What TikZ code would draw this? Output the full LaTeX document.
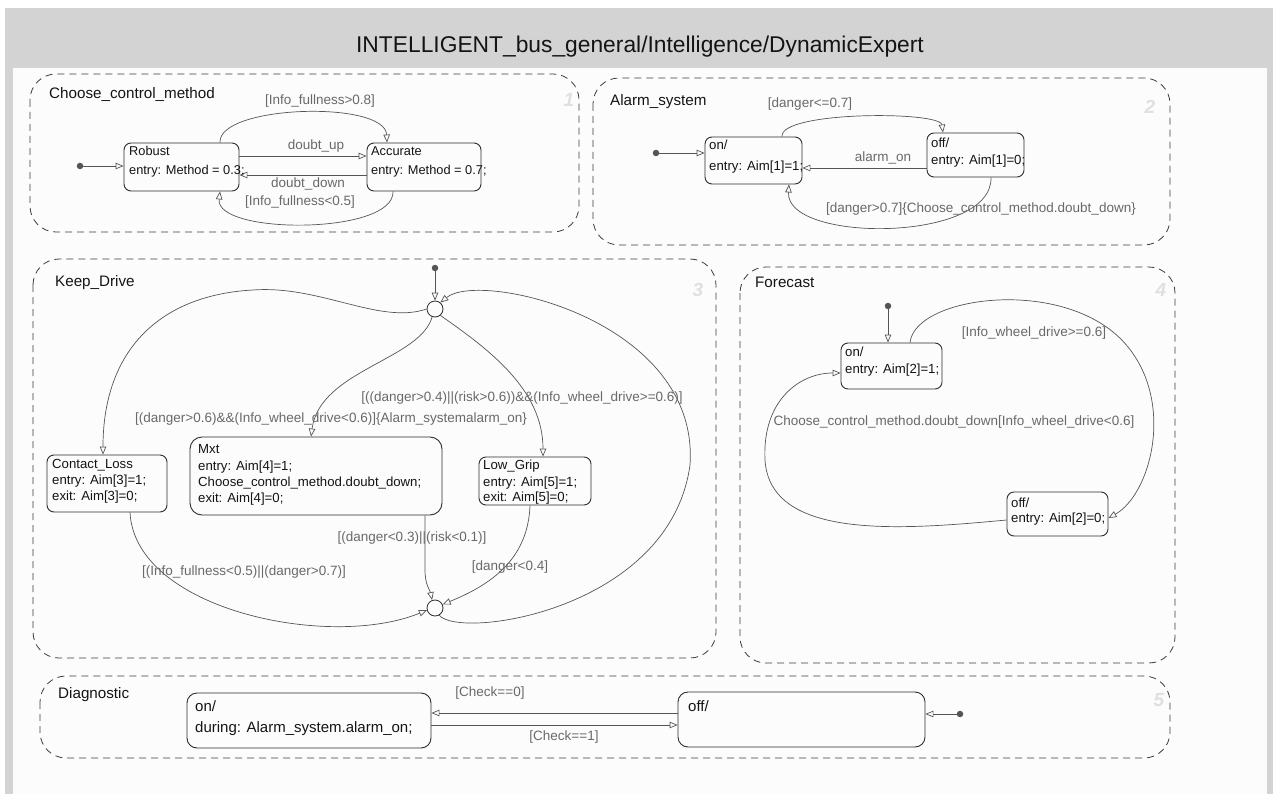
\documentclass[tikz,border=0pt]{standalone}
\usepackage{fontspec}
\setmainfont{Liberation Sans}
\usetikzlibrary{arrows.meta}
\definecolor{hdr}{RGB}{211,211,211}
\definecolor{panel}{RGB}{252,252,252}
\definecolor{chartc}{RGB}{60,60,60}
\definecolor{statec}{RGB}{45,45,45}
\definecolor{transc}{RGB}{85,85,85}
\definecolor{labc}{RGB}{105,105,105}
\definecolor{numc}{RGB}{224,224,224}
\definecolor{txtc}{RGB}{20,20,20}
\begin{document}
\begin{tikzpicture}[x=1pt,y=-1pt,
  chart/.style={draw=chartc, line width=0.8pt, dash pattern=on 7pt off 5pt, rounded corners=26pt},
  state/.style={draw=statec, line width=0.9pt, rounded corners=7pt, fill=panel, inner sep=0pt},
  junc/.style={circle, draw=statec, line width=0.8pt, minimum size=16pt, inner sep=0pt, fill=panel},
  dot/.style={circle, fill=transc, minimum size=6.5pt, inner sep=0pt},
  trans/.style={draw=transc, line width=0.7pt, -{Triangle[open, length=8pt, width=6.5pt]}},
  stxt/.style={anchor=west, inner sep=0pt, text height=9pt, text depth=3pt, font=\fontsize{13.2}{15}\selectfont, text=txtc},
  stxts/.style={stxt, font=\fontsize{12.8}{15}\selectfont},
  stxtl/.style={stxt, font=\fontsize{15}{17}\selectfont},
  ttxt/.style={inner sep=0pt, text height=9pt, text depth=3pt, font=\fontsize{13.5}{15}\selectfont, text=labc},
  ctxt/.style={anchor=west, inner sep=0pt, text height=10pt, text depth=3pt, font=\fontsize{15.2}{17}\selectfont, text=txtc},
  ntxt/.style={inner sep=0pt, font=\fontsize{19}{20}\selectfont\bfseries\itshape, text=numc},
]
\useasboundingbox (0,0) rectangle (1273,794);
\fill[white] (0,0) rectangle (1273,794);
\fill[hdr] (5,8) rectangle (1273,794);
\fill[panel] (13,68) rectangle (1267,794);
\node[font=\fontsize{22.8}{26}\selectfont, text=txtc, inner sep=0pt] (title) at (640,47) {INTELLIGENT\_bus\_general/Intelligence/DynamicExpert};

% charts
\draw[chart] (30,74) rectangle (579,232);
\draw[chart] (593,78) rectangle (1170,245);
\draw[chart] (33,259) rectangle (716,658);
\draw[chart] (740,267) rectangle (1175,663);
\draw[chart] (40,676) rectangle (1170,758);

\node[ctxt] (c1) at (49,95) {Choose\_control\_method};
\node[ctxt] (c2) at (610,102) {Alarm\_system};
\node[ctxt] (c3) at (55,283) {Keep\_Drive};
\node[ctxt] (c4) at (755,284) {Forecast};
\node[ctxt] (c5) at (58,695) {Diagnostic};
\node[ntxt] (n1) at (569,100) {1};
\node[ntxt] (n2) at (1150,107) {2};
\node[ntxt] (n3) at (698,290) {3};
\node[ntxt] (n4) at (1161,290) {4};
\node[ntxt] (n5) at (1159,700) {5};

% states
\node[state, minimum width=115pt, minimum height=48pt] (robust) at (181.5,167) {};
\node[state, minimum width=114pt, minimum height=48pt] (accurate) at (424,167) {};
\node[state, minimum width=97pt, minimum height=47pt] (aon) at (753.5,160.5) {};
\node[state, minimum width=97pt, minimum height=44pt] (aoff) at (975.5,155) {};
\node[state, minimum width=120pt, minimum height=57pt] (contact) at (107,483.5) {};
\node[state, minimum width=252pt, minimum height=78pt, rounded corners=12pt] (mxt) at (316,476) {};
\node[state, minimum width=112pt, minimum height=48pt] (lowgrip) at (535,481) {};
\node[state, minimum width=101pt, minimum height=46pt] (fon) at (891.5,366) {};
\node[state, minimum width=101pt, minimum height=44pt] (foff) at (1057.5,514) {};
\node[state, minimum width=244pt, minimum height=55pt, rounded corners=10pt] (don) at (309,720.5) {};
\node[state, minimum width=247pt, minimum height=55pt, rounded corners=10pt] (doff) at (801.5,719.5) {};
\node[junc] (jtop) at (435,309) {};
\node[junc] (jbot) at (435,608) {};

% Choose_control_method transitions
\node[dot] (ccmi) at (80,166) {};
\draw[trans] (ccmi) -- ([yshift=1pt]robust.west);
\draw[trans] ([yshift=11pt]robust.east) -- ([yshift=11pt]accurate.west);
\draw[trans] ([yshift=-8pt]accurate.west) -- ([yshift=-8pt]robust.east);
\draw[trans] ([xshift=38.5pt]robust.north) .. controls (218,105) and (385,100) .. ([xshift=-37pt]accurate.north);
\draw[trans] ([xshift=-31pt]accurate.south) .. controls (395,235) and (215,235) .. ([xshift=38.5pt]robust.south);
\node[ttxt] (l1) at (320,102) {[Info\_fullness>0.8]};
\node[ttxt] (l2) at (316,147) {doubt\_up};
\node[ttxt] (l3) at (308,185) {doubt\_down};
\node[ttxt] (l4) at (300,203) {[Info\_fullness<0.5]};

% Alarm_system transitions
\node[dot] (ai) at (656,153) {};
\draw[trans] (ai) -- ([yshift=7.5pt]aon.west);
\draw[trans] ([yshift=-13pt]aoff.west) -- ([yshift=-7.5pt]aon.east);
\draw[trans] ([xshift=28.5pt]aon.north) .. controls (780,111) and (940,111) .. ([xshift=-32.5pt]aoff.north);
\draw[trans] ([xshift=15.5pt]aoff.south) .. controls (993,243) and (785,243) .. ([xshift=35.5pt]aon.south);
\node[ttxt] (l5) at (810,105) {[danger<=0.7]};
\node[ttxt] (l6) at (883,159) {alarm\_on};
\node[ttxt] (l7) at (981,210) {[danger>0.7]\{Choose\_control\_method.doubt\_down\}};

% Keep_Drive transitions
\node[dot] (ki) at (435,268) {};
\draw[trans] (ki) -- (jtop.north);
\draw[trans] (jtop.west) .. controls (380,325) and (320,285) .. (253,290) .. controls (160,295) and (103,350) .. ([xshift=-4pt]contact.north);
\draw[trans] (jtop.250) .. controls (420,360) and (320,370) .. ([xshift=-5pt]mxt.north);
\draw[trans] (jtop.-50) .. controls (490,350) and (543,390) .. ([xshift=8pt]lowgrip.north);
\draw[trans] ([xshift=23pt]contact.south) .. controls (135,610) and (330,650) .. (jbot.195);
\draw[trans] ([xshift=109pt]mxt.south) -- (425,570) .. controls (425,585) and (430,590) .. (jbot.110);
\draw[trans] ([xshift=-5pt]lowgrip.south) .. controls (528,560) and (490,585) .. (jbot.25);
\draw[trans] (jbot.-60) .. controls (460,640) and (670,610) .. (690,465) .. controls (700,320) and (480,270) .. (jtop.50);
\node[ttxt] (l8) at (522,398) {[((danger>0.4)||(risk>0.6))\&\&(Info\_wheel\_drive>=0.6)]};
\node[ttxt] (l9) at (331,419) {[(danger>0.6)\&\&(Info\_wheel\_drive<0.6)]\{Alarm\_systemalarm\_on\}};
\node[ttxt] (l10) at (244,572) {[(Info\_fullness<0.5)||(danger>0.7)]};
\node[ttxt] (l11) at (412,538) {[(danger<0.3)||(risk<0.1)]};
\node[ttxt] (l12) at (510,567) {[danger<0.4]};

% Forecast transitions
\node[dot] (fi) at (888,306) {};
\draw[trans] (fi) -- ([xshift=-3.5pt]fon.north);
\draw[trans] ([xshift=18.5pt]fon.north) .. controls (915,295) and (1070,275) .. (1128,347) .. controls (1175,405) and (1150,495) .. ([yshift=-4pt]foff.east);
\draw[trans] ([yshift=-6pt]foff.west) .. controls (900,530) and (770,540) .. (765,460) .. controls (762,400) and (800,373) .. ([yshift=-7pt]fon.west);
\node[ttxt] (l13) at (1034,333) {[Info\_wheel\_drive>=0.6]};
\node[ttxt] (l14) at (954,422) {Choose\_control\_method.doubt\_down[Info\_wheel\_drive<0.6]};

% Diagnostic transitions
\node[dot] (di) at (960,714) {};
\draw[trans] (di) -- ([yshift=5.5pt]doff.east);
\draw[trans] ([yshift=6.5pt]doff.west) -- ([yshift=7.5pt]don.east);
\draw[trans] ([yshift=-4.5pt]don.east) -- ([yshift=-5.5pt]doff.west);
\node[ttxt] (l15) at (490,693) {[Check==0]};
\node[ttxt] (l16) at (564,737) {[Check==1]};

% state texts
\node[stxts] (s1a) at (129,153) {Robust};
\node[stxts] (s1b) at (129,172) {entry: Method = 0.3;};
\node[stxts] (s2a) at (371,153) {Accurate};
\node[stxts] (s2b) at (371,172) {entry: Method = 0.7;};
\node[stxt] (s3a) at (709,147) {on/};
\node[stxt] (s3b) at (709,168) {entry: Aim[1]=1;};
\node[stxt] (s4a) at (931,145) {off/};
\node[stxt] (s4b) at (931,162) {entry: Aim[1]=0;};
\node[stxt] (s5a) at (52,465) {Contact\_Loss};
\node[stxt] (s5b) at (52,481) {entry: Aim[3]=1;};
\node[stxt] (s5c) at (52,497) {exit: Aim[3]=0;};
\node[stxt] (s6a) at (198,450) {Mxt};
\node[stxt] (s6b) at (198,467) {entry: Aim[4]=1;};
\node[stxt] (s6c) at (198,483) {Choose\_control\_method.doubt\_down;};
\node[stxt] (s6d) at (198,499) {exit: Aim[4]=0;};
\node[stxt] (s7a) at (483,466) {Low\_Grip};
\node[stxt] (s7b) at (483,483) {entry: Aim[5]=1;};
\node[stxt] (s7c) at (483,498) {exit: Aim[5]=0;};
\node[stxt] (s8a) at (845,353) {on/};
\node[stxt] (s8b) at (845,370) {entry: Aim[2]=1;};
\node[stxt] (s9a) at (1011,504) {off/};
\node[stxt] (s9b) at (1011,519) {entry: Aim[2]=0;};
\node[stxtl] (s10a) at (195,708) {on/};
\node[stxtl] (s10b) at (195,729) {during: Alarm\_system.alarm\_on;};
\node[stxtl] (s11a) at (688,708) {off/};
\end{tikzpicture}
\end{document}
